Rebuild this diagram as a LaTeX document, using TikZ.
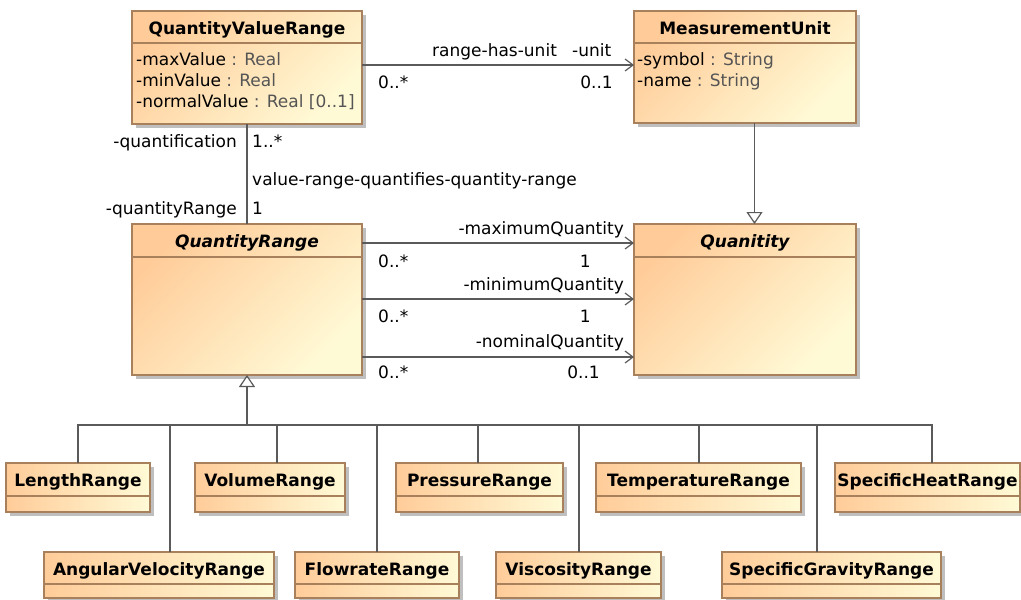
\documentclass[tikz,border=0pt]{standalone}
\usepackage{fontspec}
\setmainfont{DejaVu Sans}
\usetikzlibrary{arrows.meta,shadows,calc}
\definecolor{umlborder}{RGB}{168,128,92}
\definecolor{umlleft}{RGB}{255,204,153}
\definecolor{umlright}{RGB}{255,250,214}
\definecolor{umlline}{RGB}{90,90,90}
\definecolor{umltype}{RGB}{85,85,85}
\tikzset{
  umlbox/.style={draw=umlborder, line width=1.2pt, left color=umlleft, right color=umlright,
    drop shadow={shadow xshift=4pt, shadow yshift=-4pt, fill=black!28, opacity=0.9},
    inner sep=0pt, outer sep=0pt, anchor=north west},
  diagshade/.style={shading angle=45},
  ctitle/.style={anchor=base, inner sep=0pt, font=\fontsize{17}{20}\selectfont\bfseries},
  atitle/.style={anchor=base, inner sep=0pt, font=\fontsize{17}{20}\selectfont\bfseries\itshape},
  attr/.style={anchor=base west, inner sep=0pt},
  lbl/.style={inner sep=0pt},
  sepline/.style={draw=umlborder, line width=1.2pt},
  conn/.style={draw=umlline, line width=1.3pt},
  assoc/.style={conn, -{Straight Barb[length=8pt,width=12pt,line width=1.2pt]}},
  gen/.style={conn, -{Triangle[open, fill=white, length=12pt, width=16pt, line width=1.2pt]}},
}
% [#1 box options] #2 name, #3 x, #4 y, #5 width, #6 height, #7 header height, #8 title style, #9 title
\newcommand\umlcls[9][]{%
  \node[umlbox, #1, minimum width=#5pt, minimum height=#6pt] (#2) at (#3,#4) {};
  \draw[sepline] ([yshift=-#7pt]#2.north west) -- ([yshift=-#7pt]#2.north east);
  \node[#8] (#2-t) at ([yshift=-23pt]#2.north) {#9};
}
\begin{document}
\begin{tikzpicture}[x=1pt, y=-1pt, font=\fontsize{17}{20}\selectfont]
\useasboundingbox (0,0) rectangle (1021,600);

% classes
\umlcls[diagshade]{QVR}{132}{11}{230}{113}{32}{ctitle}{QuantityValueRange}
\umlcls[diagshade]{MU}{634}{11}{222}{112}{32}{ctitle}{MeasurementUnit}
\umlcls[diagshade]{QR}{132}{224}{230}{151}{33}{atitle}{QuantityRange}
\umlcls[diagshade]{Q}{634}{224}{222}{151}{33}{atitle}{Quanitity}

\umlcls{LR}{6}{463}{144}{49}{33}{ctitle}{LengthRange}
\umlcls{VR}{195}{463}{150}{49}{33}{ctitle}{VolumeRange}
\umlcls{PR}{396}{463}{167}{49}{33}{ctitle}{PressureRange}
\umlcls{TR}{596}{463}{205}{49}{33}{ctitle}{TemperatureRange}
\umlcls{SHR}{835}{463}{185}{49}{33}{ctitle}{SpecificHeatRange}

\umlcls{AVR}{44}{552}{230}{46}{32}{ctitle}{AngularVelocityRange}
\umlcls{FR}{295}{552}{164}{46}{32}{ctitle}{FlowrateRange}
\umlcls{ViR}{496}{552}{165}{46}{32}{ctitle}{ViscosityRange}
\umlcls{SGR}{722}{552}{219}{46}{32}{ctitle}{SpecificGravityRange}

% attributes
\node[attr] (qvr-a1) at ([xshift=4pt,yshift=-54pt]QVR.north west) {-maxValue {\color{umltype}: Real}};
\node[attr] (qvr-a2) at ([xshift=4pt,yshift=-75pt]QVR.north west) {-minValue {\color{umltype}: Real}};
\node[attr] (qvr-a3) at ([xshift=4pt,yshift=-96pt]QVR.north west) {-normalValue {\color{umltype}: Real [0..1]}};
\node[attr] (mu-a1) at ([xshift=3pt,yshift=-54pt]MU.north west) {-symbol {\color{umltype}: String}};
\node[attr] (mu-a2) at ([xshift=3pt,yshift=-75pt]MU.north west) {-name {\color{umltype}: String}};

% association range-has-unit
\coordinate (a1) at ([yshift=-54pt]QVR.north east);
\draw[assoc] (a1) -- (a1 -| MU.west);
\node[lbl, anchor=base west] (l-rhu) at (432,56) {range-has-unit};
\node[lbl, anchor=base west] (l-unit) at (572,56) {-unit};
\node[lbl, anchor=base west] (l-rhu-m1) at (378,88) {0..*};
\node[lbl, anchor=base east] (l-rhu-m2) at (613,88) {0..1};

% association value-range-quantifies-quantity-range
\draw[conn] (QVR.south) -- (QR.north);
\node[lbl, anchor=base east] (l-quant) at (237,147) {-quantification};
\node[lbl, anchor=base west] (l-quant-m) at (252,147) {1..*};
\node[lbl, anchor=base west] (l-vrq) at (252,185) {value-range-quantifies-quantity-range};
\node[lbl, anchor=base east] (l-qr) at (237,214) {-quantityRange};
\node[lbl, anchor=base west] (l-qr-m) at (252,214) {1};

% QuantityRange -> Quanitity associations
\coordinate (m1) at ([yshift=-19pt]QR.north east);
\coordinate (m2) at ([yshift=-75pt]QR.north east);
\coordinate (m3) at ([yshift=-133pt]QR.north east);
\draw[assoc] (m1) -- (m1 -| Q.west);
\draw[assoc] (m2) -- (m2 -| Q.west);
\draw[assoc] (m3) -- (m3 -| Q.west);
\node[lbl, anchor=base east] (l-max) at (624,234) {-maximumQuantity};
\node[lbl, anchor=base west] (l-max-m1) at (378,267) {0..*};
\node[lbl, anchor=base east] (l-max-m2) at (591,267) {1};
\node[lbl, anchor=base east] (l-min) at (624,290) {-minimumQuantity};
\node[lbl, anchor=base west] (l-min-m1) at (378,322) {0..*};
\node[lbl, anchor=base east] (l-min-m2) at (591,322) {1};
\node[lbl, anchor=base east] (l-nom) at (624,347) {-nominalQuantity};
\node[lbl, anchor=base west] (l-nom-m1) at (378,378) {0..*};
\node[lbl, anchor=base east] (l-nom-m2) at (600,378) {0..1};

% generalization MeasurementUnit -> Quanitity
\coordinate (g1) at ([xshift=9.5pt]MU.south);
\draw[gen] (g1) -- (g1 |- Q.north);

% generalization tree to QuantityRange
\coordinate (bus) at ([yshift=-50pt]QR.south);
\draw[conn] (bus) -| (LR.north);
\draw[conn] (bus) -| ([xshift=11pt]AVR.north);
\draw[conn] (bus) -| ([xshift=7pt]VR.north);
\draw[conn] (bus) -| (FR.north);
\draw[conn] (bus) -| ([xshift=-1.5pt]PR.north);
\draw[conn] (bus) -| ([xshift=0.5pt]ViR.north);
\draw[conn] (bus) -| ([xshift=0.5pt]TR.north);
\draw[conn] (bus) -| ([xshift=-14.5pt]SGR.north);
\draw[conn] (bus) -| ([xshift=4.5pt]SHR.north);
\draw[gen] (bus) -- (QR.south);
\end{tikzpicture}
\end{document}
